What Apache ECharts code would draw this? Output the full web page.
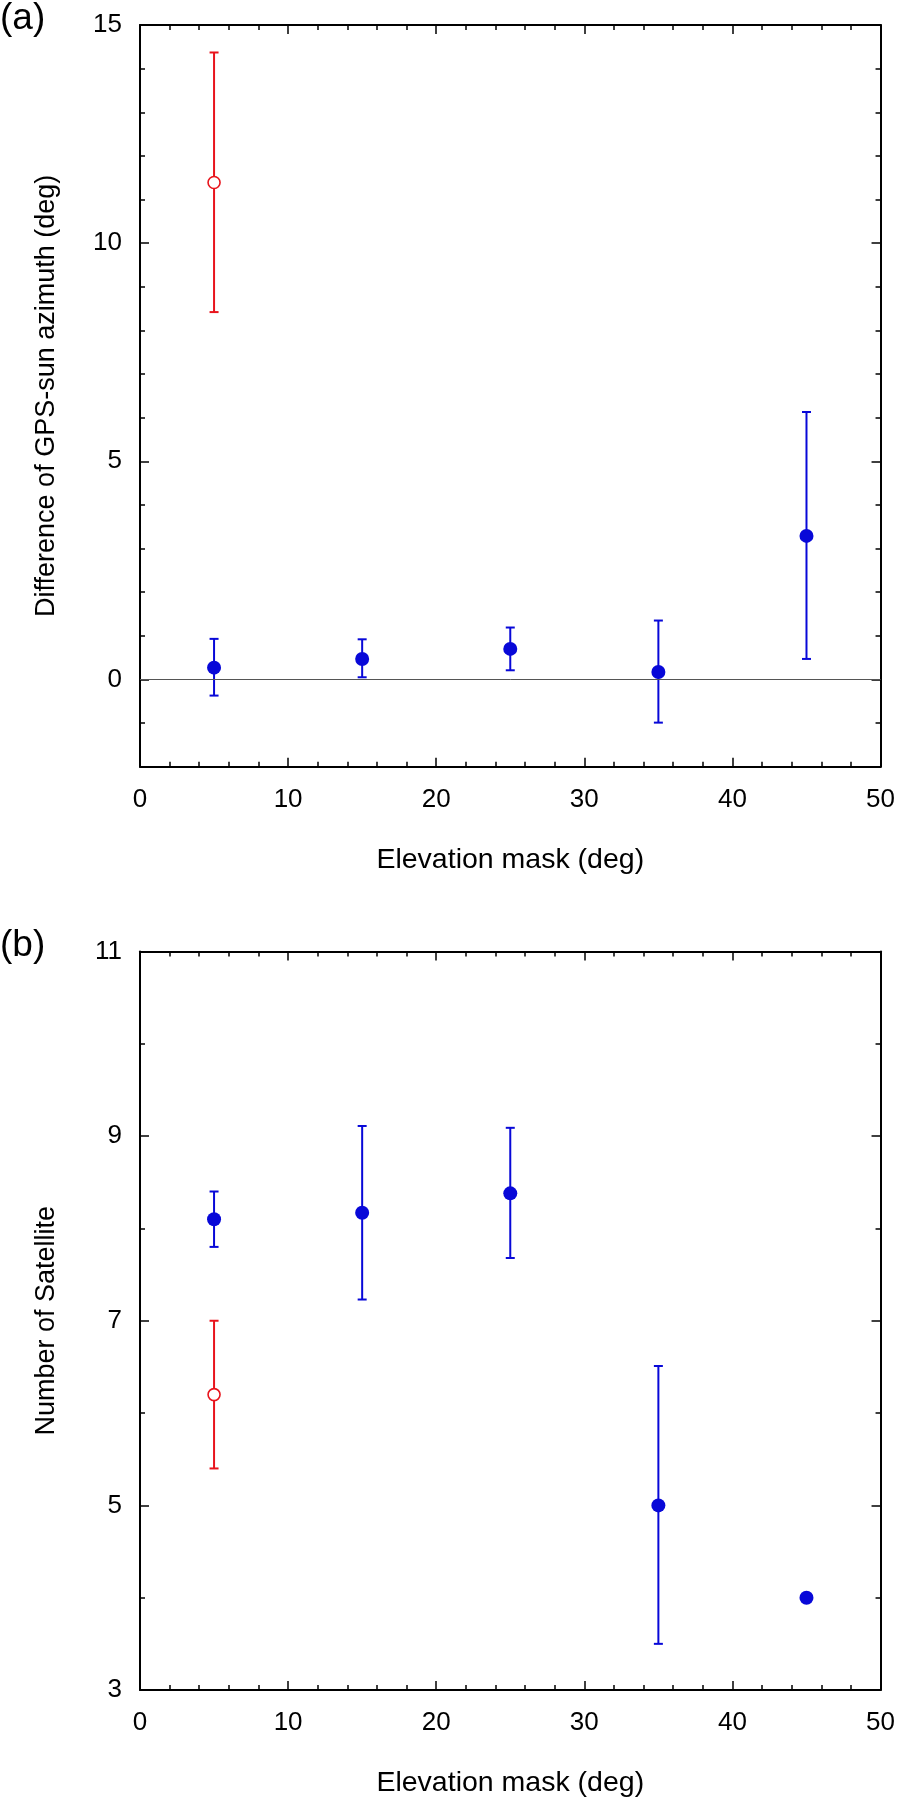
<!DOCTYPE html>
<html>
<head>
<meta charset="utf-8">
<script src="https://cdn.jsdelivr.net/npm/echarts@6/dist/echarts.min.js"></script>
<style>
html,body{margin:0;padding:0;background:#fff;}
#chart{width:898px;height:1799px;}
</style>
</head>
<body>
<div id="chart"></div>
<script>
// ---- data ----
const elevation = [5, 15, 25, 35, 45];
// panel (a): difference of GPS-sun azimuth
const aBlueMean = [0.27, 0.47, 0.70, 0.17, 3.29];
const aBlueLow  = [-0.37, 0.05, 0.21, -0.99, 0.47];
const aBlueHigh = [0.93, 0.92, 1.19, 1.35, 6.13];
const aRedX = [5];
const aRedMean = [11.39];
const aRedLow  = [8.42];
const aRedHigh = [14.37];
// panel (b): number of satellites
const bBlueMean = [8.10, 8.17, 8.38, 5.00, 4.00];
const bBlueLow  = [7.80, 7.23, 7.68, 3.50, null];
const bBlueHigh = [8.40, 9.11, 9.09, 6.51, null];
const bRedX = [5];
const bRedMean = [6.20];
const bRedLow  = [5.40];
const bRedHigh = [7.00];
// tick labels
const xTickLabels = ['0', '10', '20', '30', '40', '50'];
const aYTickLabels = ['0', '5', '10', '15'];
const bYTickLabels = ['3', '5', '7', '9', '11'];

const BLUE = '#0808d8';
const RED = '#e8141c';
const FONT = '"Liberation Sans", Arial, Helvetica, sans-serif';

function pairs(xs, ys) { return xs.map((x, i) => [x, ys[i]]); }
function bars(xs, lo, hi) {
  const out = [];
  xs.forEach((x, i) => { if (lo[i] != null && hi[i] != null) out.push([x, lo[i], hi[i]]); });
  return out;
}
function errRender(color) {
  return function (params, api) {
    const x = api.value(0), lo = api.value(1), hi = api.value(2);
    const pL = api.coord([x, lo]);
    const pH = api.coord([x, hi]);
    const hw = 4.5;
    const st = { stroke: color, lineWidth: 2 };
    return {
      type: 'group',
      children: [
        { type: 'line', shape: { x1: pL[0], y1: pL[1], x2: pH[0], y2: pH[1] }, style: st },
        { type: 'line', shape: { x1: pL[0] - hw, y1: pL[1], x2: pL[0] + hw, y2: pL[1] }, style: st },
        { type: 'line', shape: { x1: pH[0] - hw, y1: pH[1], x2: pH[0] + hw, y2: pH[1] }, style: st }
      ]
    };
  };
}

const axisLineStyle = { show: true, onZero: false, lineStyle: { color: '#000', width: 2 } };
const tickStyle = { show: true, inside: true, length: 9, lineStyle: { color: '#000', width: 1.5 } };
function minor(n) { return { show: true, splitNumber: n, length: 5, lineStyle: { color: '#000', width: 1.5 } }; }

function labelFmt(list) {
  return function (v) { const s = String(Math.round(v * 1000) / 1000); return list.indexOf(s) >= 0 ? s : ''; };
}

function xAxes(gi) {
  return [
    {
      gridIndex: gi, type: 'value', position: 'bottom', min: 0, max: 50, interval: 10,
      name: 'Elevation mask (deg)', nameLocation: 'middle', nameGap: 79,
      nameTextStyle: { fontSize: 28.5, color: '#000', fontFamily: FONT },
      axisLine: axisLineStyle, axisTick: tickStyle, minorTick: minor(5),
      axisLabel: { fontSize: 26, color: '#000', fontFamily: FONT, margin: 20, formatter: labelFmt(xTickLabels) },
      splitLine: { show: false }
    },
    {
      gridIndex: gi, type: 'value', position: 'top', min: 0, max: 50, interval: 10,
      axisLine: axisLineStyle, axisTick: tickStyle, minorTick: minor(5),
      axisLabel: { show: false }, splitLine: { show: false }
    }
  ];
}

function yAxes(gi, cfg) {
  const base = Object.assign({ gridIndex: gi, type: 'value', splitLine: { show: false },
    axisLine: axisLineStyle, axisTick: tickStyle, minorTick: minor(cfg.minorSplit) }, cfg.scale);
  return [
    Object.assign({}, base, {
      position: 'left', name: cfg.name, nameLocation: 'middle', nameGap: cfg.nameGap,
      nameTextStyle: { fontSize: 27, color: '#000', fontFamily: FONT },
      axisLabel: { fontSize: 26, color: '#000', fontFamily: FONT, margin: 18, formatter: labelFmt(cfg.labels) }
    }),
    Object.assign({}, base, { position: 'right', axisLabel: { show: false } })
  ];
}

const option = {
  animation: false,
  backgroundColor: '#fff',
  title: [
    { text: '(a)', left: 0, top: 0, padding: 0, textStyle: { fontSize: 37, fontWeight: 'normal', color: '#000', fontFamily: FONT } },
    { text: '(b)', left: 0, top: 927, padding: 0, textStyle: { fontSize: 37, fontWeight: 'normal', color: '#000', fontFamily: FONT } }
  ],
  grid: [
    { left: 140, top: 25, width: 741.7, height: 741.7 },
    { left: 140, top: 951.5, width: 741.7, height: 741 }
  ],
  xAxis: [].concat(xAxes(0), xAxes(1)),
  yAxis: [].concat(
    yAxes(0, { name: 'Difference of GPS-sun azimuth (deg)', nameGap: 80, labels: aYTickLabels, minorSplit: 5,
      scale: { min: -2, max: 15, splitNumber: 3, minInterval: 5, maxInterval: 5 } }),
    yAxes(1, { name: 'Number of Satellite', nameGap: 80, labels: bYTickLabels, minorSplit: 2,
      scale: { min: 3, max: 11, interval: 2 } })
  ),
  series: [
    // panel (a)
    { type: 'line', xAxisIndex: 0, yAxisIndex: 0, data: [], silent: true,
      markLine: { symbol: 'none', silent: true, label: { show: false },
        lineStyle: { color: '#555', width: 1, type: 'solid' }, data: [{ yAxis: 0 }] } },
    { type: 'custom', xAxisIndex: 0, yAxisIndex: 0, renderItem: errRender(BLUE),
      data: bars(elevation, aBlueLow, aBlueHigh), encode: { x: 0, y: [1, 2] }, z: 2 },
    { type: 'custom', xAxisIndex: 0, yAxisIndex: 0, renderItem: errRender(RED),
      data: bars(aRedX, aRedLow, aRedHigh), encode: { x: 0, y: [1, 2] }, z: 2 },
    { type: 'scatter', xAxisIndex: 0, yAxisIndex: 0, data: pairs(elevation, aBlueMean),
      symbol: 'circle', symbolSize: 14, itemStyle: { color: BLUE, opacity: 1 }, z: 3 },
    { type: 'scatter', xAxisIndex: 0, yAxisIndex: 0, data: pairs(aRedX, aRedMean),
      symbol: 'circle', symbolSize: 12, itemStyle: { color: '#fff', borderColor: RED, borderWidth: 1.6, opacity: 1 }, z: 3 },
    // panel (b)
    { type: 'custom', xAxisIndex: 2, yAxisIndex: 2, renderItem: errRender(BLUE),
      data: bars(elevation, bBlueLow, bBlueHigh), encode: { x: 0, y: [1, 2] }, z: 2 },
    { type: 'custom', xAxisIndex: 2, yAxisIndex: 2, renderItem: errRender(RED),
      data: bars(bRedX, bRedLow, bRedHigh), encode: { x: 0, y: [1, 2] }, z: 2 },
    { type: 'scatter', xAxisIndex: 2, yAxisIndex: 2, data: pairs(elevation, bBlueMean),
      symbol: 'circle', symbolSize: 14, itemStyle: { color: BLUE, opacity: 1 }, z: 3 },
    { type: 'scatter', xAxisIndex: 2, yAxisIndex: 2, data: pairs(bRedX, bRedMean),
      symbol: 'circle', symbolSize: 12, itemStyle: { color: '#fff', borderColor: RED, borderWidth: 1.6, opacity: 1 }, z: 3 }
  ]
};

const chart = echarts.init(document.getElementById('chart'), null, { renderer: 'canvas' });
chart.setOption(option);
</script>
</body>
</html>
